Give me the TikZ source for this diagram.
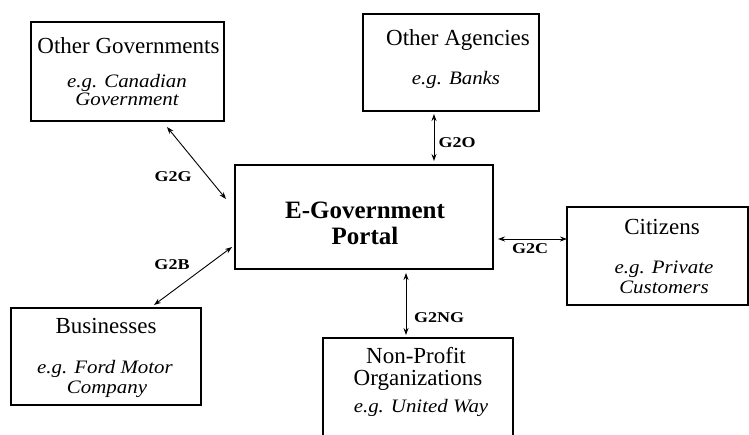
\documentclass[tikz,border=0pt]{standalone}
\usepackage{fontspec}
\setmainfont{Liberation Serif}
\newfontfamily\exfont{Liberation Serif}[FakeStretch=1.1]
\newfontfamily\lblfont{Liberation Serif}[FakeStretch=1.2]
\usetikzlibrary{arrows.meta}
\begin{document}
\begin{tikzpicture}[x=1pt,y=-1pt,
  box/.style={draw, line width=1.1pt, inner sep=0pt, outer sep=0pt},
  ttl/.style={anchor=base, inner sep=0pt, font=\fontsize{23}{25}\selectfont},
  ptl/.style={anchor=base, inner sep=0pt, font=\bfseries\fontsize{25}{27}\selectfont},
  ex/.style={anchor=base, inner sep=0pt, font=\exfont\itshape\fontsize{19}{21}\selectfont},
  lbl/.style={anchor=base, inner sep=0pt, font=\lblfont\bfseries\fontsize{15}{17}\selectfont},
  conn/.style={{Stealth[length=7pt,width=5pt]}-{Stealth[length=7pt,width=5pt]}, line width=0.9pt}]
\fill[white] (0,0) rectangle (749,434);
\useasboundingbox (0,0) rectangle (749,434);

% Other Governments
\node[box, minimum width=193pt, minimum height=99pt] (og) at (127.5,71.5) {};
\node[ttl] (ogt) at (128.5,53) {Other Governments};
\node[ex] (oge1) at (127,87) {e.g. Canadian};
\node[ex] (oge2) at (127,105) {Government};

% Other Agencies
\node[box, minimum width=176pt, minimum height=97pt] (oa) at (451,62.5) {};
\node[ttl] (oat) at (458,45) {Other Agencies};
\node[ex] (oae) at (456,84) {e.g. Banks};

% Portal
\node[box, minimum width=258pt, minimum height=104pt] (portal) at (364,217) {};
\node[ptl] (pt1) at (365,218) {E-Government};
\node[ptl] (pt2) at (365,244) {Portal};

% Citizens
\node[box, minimum width=181pt, minimum height=98pt] (cit) at (657.5,256) {};
\node[ttl] (citt) at (662,234) {Citizens};
\node[ex] (cite1) at (664,273) {e.g. Private};
\node[ex] (cite2) at (664,293) {Customers};

% Businesses
\node[box, minimum width=190pt, minimum height=97pt] (bus) at (106,356.5) {};
\node[ttl] (bust) at (106,333) {Businesses};
\node[ex] (buse1) at (105,373) {e.g. Ford Motor};
\node[ex] (buse2) at (107,393) {Company};

% Non-Profit Organizations
\node[box, minimum width=190pt, minimum height=122pt] (np) at (418,399) {};
\node[ttl] (npt1) at (416,363) {Non-Profit};
\node[ttl] (npt2) at (418,385) {Organizations};
\node[ex] (npe) at (421,412) {e.g. United Way};

% Connectors
\draw[conn] ([shift={(39.5,6)}]og.south) -- ([shift={(-9,-18)}]portal.west);
\draw[conn] ([shift={(-17,3)}]oa.south) -- ([shift={(70,-4)}]portal.north);
\draw[conn] ([shift={(5,22)}]portal.east) -- ([shift={(0,-17)}]cit.west);
\draw[conn] ([shift={(-3,30)}]portal.west) -- ([shift={(48,-3)}]bus.north);
\draw[conn] ([shift={(42,4)}]portal.south) -- ([shift={(-12,-3)}]np.north);

% Labels
\node[lbl] (lg2g) at (173,181) {G2G};
\node[lbl] (lg2b) at (172,269) {G2B};
\node[lbl] (lg2o) at (457,147) {G2O};
\node[lbl] (lg2c) at (530,253) {G2C};
\node[lbl] (lg2ng) at (439,322) {G2NG};
\end{tikzpicture}
\end{document}
